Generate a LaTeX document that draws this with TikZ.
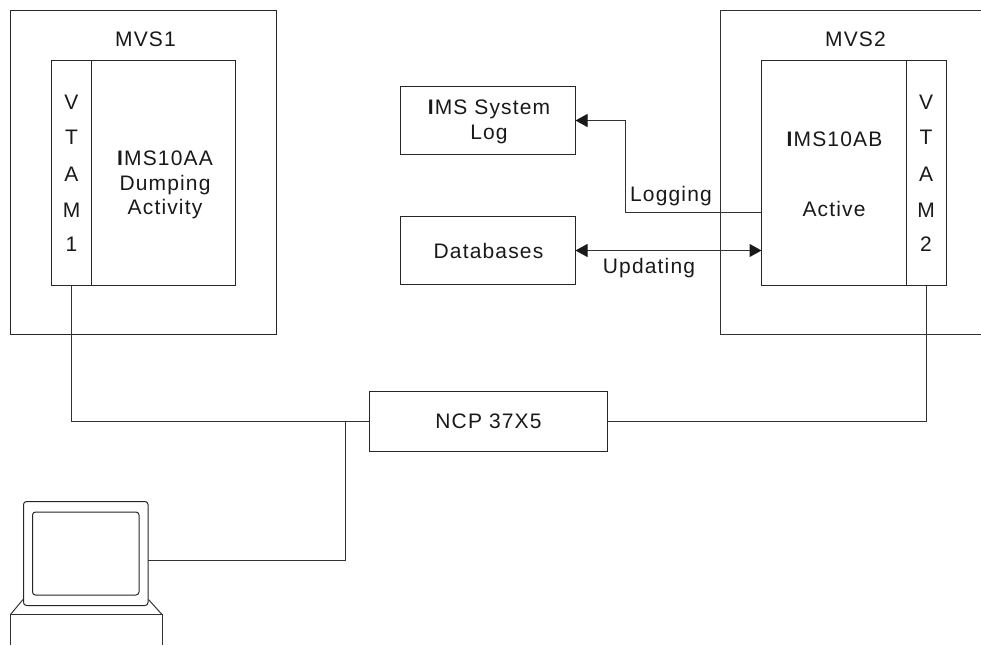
\documentclass[tikz,border=0pt]{standalone}
\usepackage{fontspec}
\setmainfont[LetterSpace=5.5]{Liberation Sans}
\usetikzlibrary{arrows.meta}
\tikzset{
 box/.style={draw=black!85,line width=1pt,inner sep=0pt,outer sep=0pt},
 lbl/.style={inner sep=0pt,align=center,text=black!90,font=\fontsize{21}{25}\selectfont},
 wire/.style={draw=black!80,line width=1pt},
 arr/.style={wire,-{Stealth[inset=0pt,length=12pt,width=13pt,black!90]}},
 arrb/.style={wire,{Stealth[inset=0pt,length=12pt,width=13pt,black!90]}-{Stealth[inset=0pt,length=12pt,width=13pt,black!90]}}
}
\newcommand{\bx}[5]{\node[box,anchor=north west,minimum width=#4 pt,minimum height=#5 pt] (#1) at (#2pt,-#3pt) {};}
\newcommand{\bI}{\textbf{I}}
\begin{document}
\begin{tikzpicture}[x=1pt,y=1pt]
\useasboundingbox (0,0) rectangle (981,-645);
\bx{mvsa}{10.5}{10.5}{266}{324}
\bx{vtama}{51.5}{60.5}{40}{225}
\bx{imsa}{91.5}{60.5}{144}{225}
\coordinate (mr1) at (981,-10.5);
\coordinate (mr2) at (981,-334.5);
\draw[wire] (mr1) -- (720.5,-10.5) -- (720.5,-334.5) -- (mr2);
\bx{imsb}{761.5}{60.5}{145}{225}
\bx{vtamb}{906.5}{60.5}{40}{225}
\bx{log}{400.5}{86.5}{175}{68}
\bx{db}{400.5}{216.5}{175}{68}
\bx{ncp}{369.5}{391.5}{238}{60}
% terminal
\node[box,rounded corners=3pt,anchor=north west,minimum width=124.5pt,minimum height=104pt] (scr) at (23.5,-501.5) {};
\node[box,rounded corners=3pt,anchor=north west,minimum width=106.5pt,minimum height=83pt] (scri) at (32.5,-512) {};
\coordinate (bl) at (10.5,-645);
\coordinate (br) at (162,-645);
\coordinate (tl) at (10.5,-614.5);
\coordinate (tr) at (162,-614.5);
\draw[wire] (bl) -- (tl) -- (tr) -- (br);
\draw[wire] (tl) -- (23,-599.5);
\draw[wire] (tr) -- (148.5,-599.5);
% connectors
\coordinate (j) at (345,-422);
\draw[wire] (vtama.south) |- (ncp.west);
\draw[wire] (vtamb.south) |- (ncp.east);
\draw[wire] (j) |- (scr.east |- 0,-560.5);
\coordinate (bend) at (625.5,-212.5);
\draw[arr] (imsb.west |- bend) -- (bend) |- (log.east);
\draw[arrb] (db.east) -- (imsb.west |- db.east);
% labels
\node[lbl] (t1) at (145.5,-39) {MVS1};
\node[lbl] (t2) at (855.5,-39) {MVS2};
\node[lbl] (v1) at (71.5,-102) {V};
\node[lbl] (v2) at (71.5,-137.5) {T};
\node[lbl] (v3) at (71.5,-174) {A};
\node[lbl] (v4) at (71.5,-210) {M};
\node[lbl] (v5) at (71.5,-244) {1};
\node[lbl] (w1) at (926,-102) {V};
\node[lbl] (w2) at (926,-137.5) {T};
\node[lbl] (w3) at (926,-174) {A};
\node[lbl] (w4) at (926,-210) {M};
\node[lbl] (w5) at (926,-244) {2};
\node[lbl] (ia) at (165,-185) {\bI MS10AA\\[-0.5pt]Dumping\\[-0.5pt]Activity};
\node[lbl] (ib) at (834.5,-139) {\bI MS10AB};
\node[lbl] (ac) at (834,-209) {Active};
\node[lbl] (lg) at (489,-122) {\bI MS System\\Log};
\node[lbl] (dbt) at (488.5,-250.5) {Databases};
\node[lbl] (lo) at (671,-196) {Logging};
\node[lbl] (up) at (649,-268) {Updating};
\node[lbl] (nc) at (488.5,-421) {NCP 37X5};
\end{tikzpicture}
\end{document}
